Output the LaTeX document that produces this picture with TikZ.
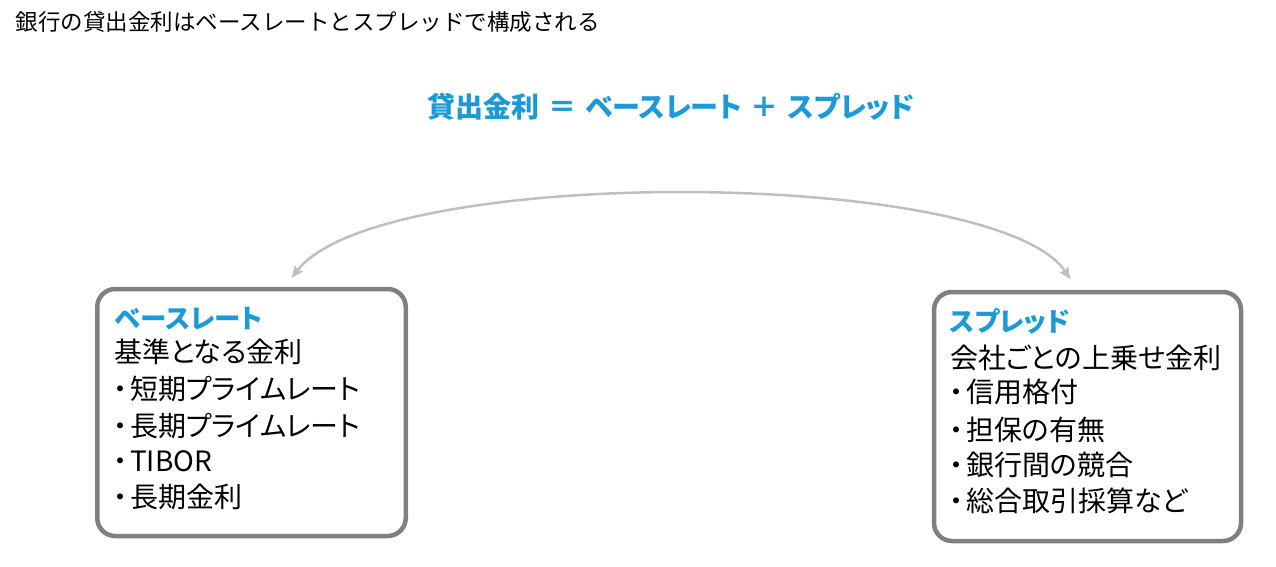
\documentclass[tikz,border=0pt]{standalone}
\usepackage{fontspec}
\usetikzlibrary{arrows.meta,calc}
\newfontfamily\jp{Noto Sans CJK JP}[RawFeature=+palt]
\newfontfamily\jpfull{Noto Sans CJK JP}
\definecolor{accent}{HTML}{1A9AD6}
\definecolor{boxgray}{HTML}{808080}
\definecolor{arrowgray}{HTML}{BFBFBF}
\newcommand\bul{・\kern3pt}
\newcommand\opgap{\hspace{9pt}}
\tikzset{
  txt/.style={inner sep=0pt, outer sep=0pt, anchor=base west, text=black, font=\jp\fontsize{28}{34}\selectfont},
  head/.style={txt, text=accent, font=\jp\bfseries\fontsize{26.5}{32}\selectfont},
  infobox/.style={draw=boxgray, line width=4.5pt, rounded corners=18pt, fill=white,
    inner sep=0pt, outer sep=0pt, anchor=north west},
  link/.style={draw=arrowgray, line width=2.5pt,
    {Stealth[length=12pt,width=10pt,inset=2pt]}-{Stealth[length=12pt,width=10pt,inset=2pt]}}
}
\begin{document}
\begin{tikzpicture}[x=1pt,y=-1pt]
\useasboundingbox (0,0) rectangle (1276,567);
\fill[white] (0,0) rectangle (1276,567);

\node[txt, font=\jpfull\fontsize{22.5}{26}\selectfont] (title) at (16,30.6) {銀行の貸出金利はベースレートとスプレッドで構成される};

\node[head, anchor=base, font=\jp\bfseries\fontsize{28}{34}\selectfont] (formula) at (671,117.6) {貸出金利\opgap ＝\opgap ベースレート\opgap ＋\opgap スプレッド};

\node[infobox, minimum width=308.5pt, minimum height=247pt] (lbox) at (97.25,289) {};
\node[infobox, minimum width=307pt, minimum height=249pt] (rbox) at (934,292) {};

\node[head] (lh) at (115,328.6) {ベースレート};
\node[txt] (l1) at (114,362.6) {基準となる金利};
\node[txt] (l2) at (113,399.6) {\bul 短期プライムレート};
\node[txt] (l3) at (113,436.6) {\bul 長期プライムレート};
\node[txt] (l4) at (113,471.6) {\bul TIBOR};
\node[txt] (l5) at (113,507.6) {\bul 長期金利};

\node[head] (rh) at (950,331.6) {スプレッド};
\node[txt] (r1) at (950,368) {会社ごとの上乗せ金利};
\node[txt] (r2) at (949,402.6) {\bul 信用格付};
\node[txt] (r3) at (949,440.6) {\bul 担保の有無};
\node[txt] (r4) at (949,475.6) {\bul 銀行間の競合};
\node[txt] (r5) at (949,511.3) {\bul 総合取引採算など};

\coordinate (la) at ($(lbox.north)+(40,-11)$);
\coordinate (ra) at ($(rbox.north)+(-17,-12.7)$);
\coordinate (c1) at ($(la)+(88,-114)$);
\coordinate (c2) at ($(ra)+(-75,-112)$);
\draw[link] (la) .. controls (c1) and (c2) .. (ra);
\end{tikzpicture}
\end{document}
